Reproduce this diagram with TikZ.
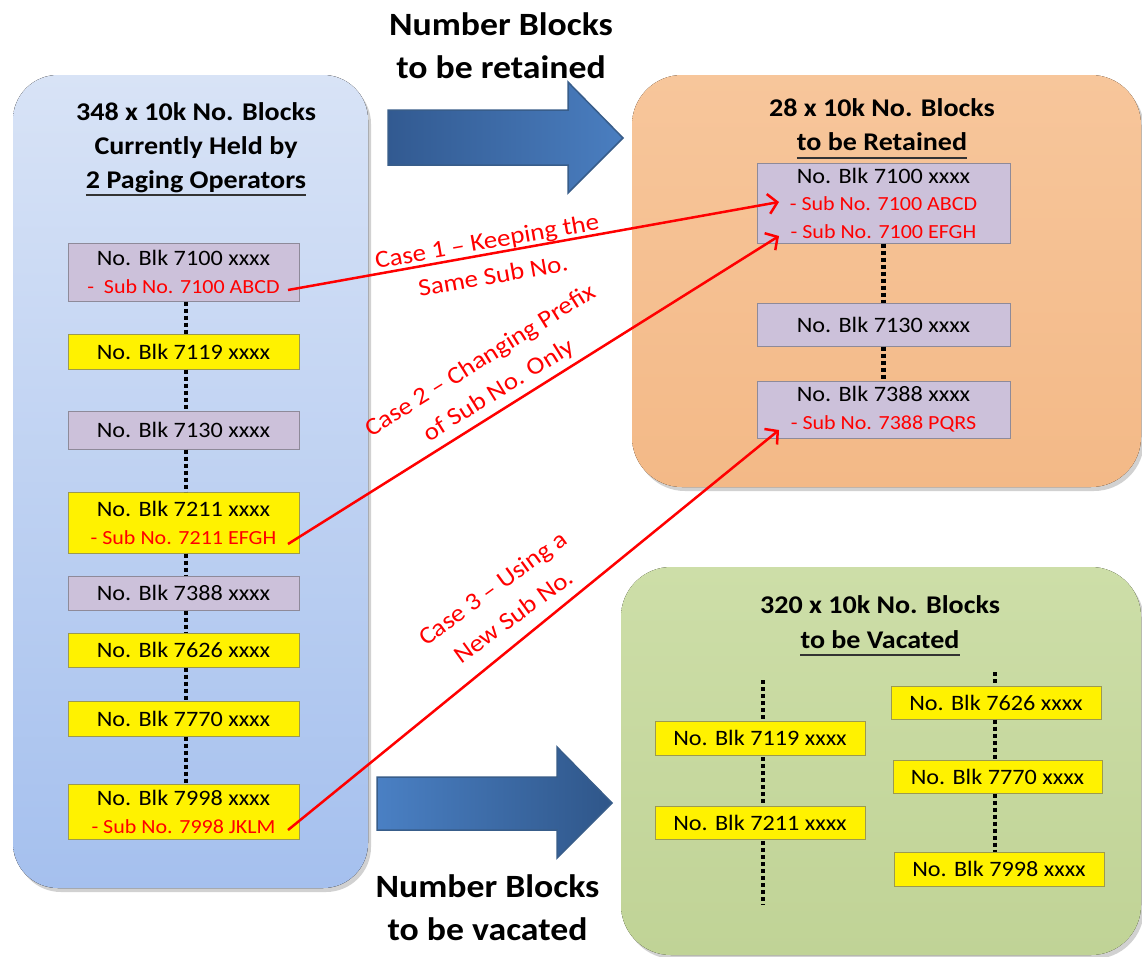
\documentclass[tikz,border=0pt]{standalone}
\usepackage{fontspec}
\setmainfont{Carlito}[FakeStretch=1.1]
\usetikzlibrary{arrows.meta,shadows}
\definecolor{purpfill}{HTML}{CCC1DA}
\definecolor{purpedge}{HTML}{8E8A99}
\definecolor{yeledge}{HTML}{9C9A50}
\definecolor{arrowedge}{HTML}{385D8A}
\definecolor{linkred}{HTML}{FF0000}
\newcommand\blkfont{\fontsize{22}{28}\selectfont}
\newcommand\blkfontb{\fontsize{22}{27.5}\selectfont}
\newcommand\subtxt[1]{{\color{linkred}\fontsize{20}{28}\selectfont #1}}
\newcommand\subtxtb[1]{{\color{linkred}\fontsize{20}{27.5}\selectfont #1}}
\newcommand\casefont{\fontsize{24.5}{35}\selectfont}
\newcommand\ttlfont{\fontsize{25.5}{34}\selectfont\bfseries}
\newcommand\bigfont{\fontsize{32.5}{43}\selectfont\bfseries}
\begin{document}
\begin{tikzpicture}[x=1pt,y=-1pt,
  panelshadow/.style={drop shadow={shadow xshift=3pt,shadow yshift=-4pt,opacity=.18,fill=black}},
  blk/.style={rectangle,draw=#1,line width=1pt,inner sep=0pt,align=center,font=\blkfont,text=black},
  purp/.style={blk=purpedge,fill=purpfill},
  yel/.style={blk=yeledge,fill=yellow},
  dots/.style={line width=4.5pt,dash pattern=on 4pt off 3pt,black},
  link/.style={linkred,line width=2.5pt,-{Straight Barb[length=9pt,width=20pt,line width=2.5pt]}},
  caselbl/.style={text=linkred,font=\casefont,align=center,inner sep=0pt},
  ttl/.style={font=\ttlfont,anchor=base,inner sep=0pt},
  bigttl/.style={font=\bigfont,anchor=base,inner sep=0pt},
  uline/.style={line width=2pt,black!80},
  bigarrow/.style={draw=arrowedge,line width=1.5pt,line join=miter}]
\useasboundingbox (0,0) rectangle (1142,956);
\fill[white] (0,0) rectangle (1142,956);

% ---------------- panels ----------------
\fill[panelshadow,rounded corners=45pt,top color=blue!3!white,bottom color=blue!3!white]
  (13,75) rectangle (368,888);
\fill[rounded corners=45pt,top color={rgb,255:red,216;green,227;blue,246},bottom color={rgb,255:red,165;green,192;blue,238}]
  (13,75) rectangle (368,888);
\fill[panelshadow,rounded corners=50pt,fill={rgb,255:red,245;green,190;blue,143}]
  (632,75) rectangle (1141,487);
\fill[rounded corners=50pt,top color={rgb,255:red,247;green,198;blue,155},bottom color={rgb,255:red,243;green,185;blue,135}]
  (632,75) rectangle (1141,487);
\fill[panelshadow,rounded corners=50pt,fill={rgb,255:red,196;green,215;blue,156}]
  (621,567) rectangle (1141,955);
\fill[rounded corners=50pt,top color={rgb,255:red,205;green,222;blue,168},bottom color={rgb,255:red,192;green,211;blue,150}]
  (621,567) rectangle (1141,955);

% ---------------- big arrows ----------------
\filldraw[bigarrow,left color={rgb,255:red,50;green,90;blue,145},right color={rgb,255:red,74;green,126;blue,192}]
  (388,110) -- (568,110) -- (568,82) -- (623,138) -- (568,193) -- (568,165) -- (388,165) -- cycle;
\filldraw[bigarrow,left color={rgb,255:red,74;green,128;blue,196},right color={rgb,255:red,47;green,86;blue,137}]
  (377,777) -- (557,777) -- (557,747) -- (612,803) -- (557,858) -- (557,830) -- (377,830) -- cycle;

\node[bigttl] (nbr1) at (501,35.5) {Number Blocks};
\node[bigttl] (nbr2) at (501,78.5) {to be retained};
\node[bigttl] (nbv1) at (487.5,897.5) {Number Blocks};
\node[bigttl] (nbv2) at (487.5,940.5) {to be vacated};

% ---------------- left panel ----------------
\node[ttl] (lt1) at (196,120) {348 x 10k No. Blocks};
\node[ttl] (lt2) at (196,154) {Currently Held by};
\node[ttl] (lt3) at (196,188) {2 Paging Operators};
\draw[uline] ([yshift=-7pt]lt3.base west) -- ([yshift=-7pt]lt3.base east);

\node[purp,minimum width=231pt,minimum height=58pt] (L7100) at (183.5,272)
  {No. Blk 7100 xxxx\\\subtxt{-\ \ Sub No. 7100 ABCD}};
\node[yel,minimum width=231pt,minimum height=35pt] (L7119) at (183.5,351.5) {No. Blk 7119 xxxx};
\node[purp,minimum width=231pt,minimum height=38pt] (L7130) at (183.5,430) {No. Blk 7130 xxxx};
\node[yel,minimum width=231pt,minimum height=61pt] (L7211) at (183.5,522.5)
  {No. Blk 7211 xxxx\\\subtxt{- Sub No. 7211 EFGH}};
\node[purp,minimum width=231pt,minimum height=34pt] (L7388) at (183.5,593) {No. Blk 7388 xxxx};
\node[yel,minimum width=231pt,minimum height=34pt] (L7626) at (183.5,650) {No. Blk 7626 xxxx};
\node[yel,minimum width=231pt,minimum height=35pt] (L7770) at (183.5,718.5) {No. Blk 7770 xxxx};
\node[yel,minimum width=231pt,minimum height=55pt] (L7998) at (183.5,811.5)
  {No. Blk 7998 xxxx\\\subtxt{- Sub No. 7998 JKLM}};

\foreach \a/\b in {L7100/L7119,L7119/L7130,L7130/L7211,L7211/L7388,L7388/L7626,L7626/L7770,L7770/L7998}
  \draw[dots] ([xshift=2.5pt]\a.south) -- ([xshift=2.5pt]\b.north);

% ---------------- retained panel ----------------
\node[ttl] (rt1) at (882,116) {28 x 10k No. Blocks};
\node[ttl] (rt2) at (882,150) {to be Retained};
\draw[uline] ([yshift=-8pt]rt2.base west) -- ([yshift=-8pt]rt2.base east);

\node[purp,minimum width=253pt,minimum height=80pt,font=\blkfontb] (R7100) at (883.5,203)
  {No. Blk 7100 xxxx\\\subtxtb{- Sub No. 7100 ABCD}\\\subtxtb{- Sub No. 7100 EFGH}};
\node[purp,minimum width=253pt,minimum height=43pt] (R7130) at (883.5,324.5) {No. Blk 7130 xxxx};
\node[purp,minimum width=253pt,minimum height=57pt] (R7388) at (883.5,409.5)
  {No. Blk 7388 xxxx\\\subtxt{- Sub No. 7388 PQRS}};
\draw[dots] (R7100.south) -- (R7130.north);
\draw[dots] (R7130.south) -- (R7388.north);

% ---------------- vacated panel ----------------
\node[ttl] (vt1) at (880,613) {320 x 10k No. Blocks};
\node[ttl] (vt2) at (880,648) {to be Vacated};
\draw[uline] ([yshift=-7pt]vt2.base west) -- ([yshift=-7pt]vt2.base east);

\coordinate (gla) at (763,680);
\coordinate (glb) at (763,905);
\coordinate (gra) at (995,672);
\draw[dots] (gla) -- (glb);
\node[yel,minimum width=210pt,minimum height=34pt] (G7119) at (760,738) {No. Blk 7119 xxxx};
\node[yel,minimum width=210pt,minimum height=33pt] (G7211) at (760,822.5) {No. Blk 7211 xxxx};
\node[yel,minimum width=210pt,minimum height=33pt] (G7626) at (996,702.5) {No. Blk 7626 xxxx};
\node[yel,minimum width=209pt,minimum height=33pt] (G7770) at (997.5,776.5) {No. Blk 7770 xxxx};
\node[yel,minimum width=210pt,minimum height=34pt] (G7998) at (999,869) {No. Blk 7998 xxxx};
\draw[dots] (gra) -- (G7626.north -| gra);
\draw[dots] (G7626.south -| gra) -- (G7770.north -| gra);
\draw[dots] (G7770.south -| gra) -- (G7998.north -| gra);

% ---------------- case connectors ----------------
\coordinate (s1) at (288,290);
\coordinate (s2) at (288,544);
\coordinate (s3) at (288,830);
\coordinate (e1) at (779,202);
\coordinate (e2) at (779,236);
\coordinate (e3) at (779,430);
\draw[link] (s1) -- (e1);
\draw[link] (s2) -- (e2);
\draw[link] (s3) -- (e3);

\node[caselbl,rotate=10] (c1) at (490,258) {Case 1 – Keeping the\\Same Sub No.};
\node[caselbl,rotate=32] (c2) at (490,376) {Case 2 – Changing Prefix\\of Sub No. Only};
\node[caselbl,rotate=36] (c3) at (503,602) {Case 3 – Using a\\New Sub No.};
\end{tikzpicture}
\end{document}
